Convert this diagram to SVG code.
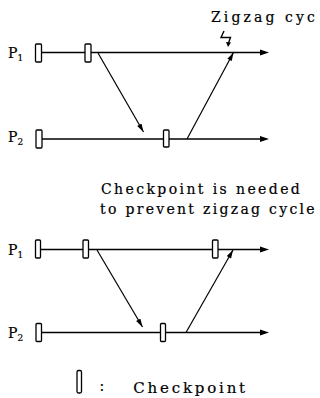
<svg xmlns="http://www.w3.org/2000/svg" width="320" height="398" viewBox="0 0 320 398">
<style>
text{font-family:'DejaVu Serif','Liberation Serif',serif;fill:#000;stroke:#000;stroke-width:0.2}
.lbl{font-size:14px}
.sub{font-size:9px}
.cap{font-size:14px;letter-spacing:2.4px}
.line{stroke:#000;stroke-width:1.3;fill:none}
.msg{stroke:#000;stroke-width:1.2;fill:none;marker-end:url(#ah)}
.ck{fill:#fff;stroke:#000;stroke-width:1.3}
</style>
<defs>
<marker id="ah" markerUnits="userSpaceOnUse" viewBox="0 0 10 6" refX="10" refY="3" markerWidth="9" markerHeight="5" orient="auto">
<path d="M0,0 L10,3 L0,6 Z" fill="#000"/>
</marker>
</defs>
<rect width="320" height="398" fill="#fff"/>

<!-- Top diagram -->
<g id="top-p1">
<text class="lbl" x="8" y="58">P<tspan class="sub" dy="3">1</tspan></text>
<line class="line" x1="38" y1="52.5" x2="262" y2="52.5"/>
<path d="M260,49.5 L269,52.5 L260,55.5 Z" fill="#000"/>
<rect class="ck" x="35.5" y="44" width="6" height="18" rx="1"/>
<rect class="ck" x="85" y="44" width="6" height="18" rx="1"/>
</g>
<g id="top-p2">
<text class="lbl" x="8" y="141.5">P<tspan class="sub" dy="3">2</tspan></text>
<line class="line" x1="38" y1="139" x2="262" y2="139"/>
<path d="M260,136 L269,139 L260,142 Z" fill="#000"/>
<rect class="ck" x="36" y="130" width="6" height="18" rx="1"/>
<rect class="ck" x="163.5" y="130" width="5.5" height="17" rx="1"/>
</g>
<g id="top-label">
<text class="cap" x="211" y="21.7" style="letter-spacing:3.1px">Zigzag cyc</text>
<path d="M224,31 L221,37.5 L230.5,37.5 L228.5,43" stroke="#000" stroke-width="1.4" fill="none"/>
<path d="M226,42 L228,47 L231,42.5 Z" fill="#000"/>
</g>

<!-- Bottom diagram -->
<g id="bottom-p1">
<text class="lbl" x="8" y="255">P<tspan class="sub" dy="3">1</tspan></text>
<line class="line" x1="38" y1="249.5" x2="262" y2="249.5"/>
<path d="M260,246.5 L269,249.5 L260,252.5 Z" fill="#000"/>
<rect class="ck" x="35.5" y="240" width="5" height="18" rx="1"/>
<rect class="ck" x="83" y="240" width="5.5" height="18" rx="1"/>
<rect class="ck" x="212.5" y="240" width="5.5" height="18" rx="1"/>
</g>
<g id="bottom-p2">
<text class="lbl" x="8" y="338">P<tspan class="sub" dy="3">2</tspan></text>
<line class="line" x1="38" y1="332.5" x2="262" y2="332.5"/>
<path d="M260,329.5 L269,332.5 L260,335.5 Z" fill="#000"/>
<rect class="ck" x="36" y="323.5" width="5.5" height="18" rx="1"/>
<rect class="ck" x="160.5" y="323.5" width="5" height="18" rx="1"/>
</g>
<g id="bottom-label">
<text class="cap" x="101" y="194.3">Checkpoint is needed</text>
<text class="cap" x="100" y="214.3" style="letter-spacing:2.3px">to prevent zigzag cycle</text>
</g>

<g id="connectors">
<line class="msg" x1="98" y1="53" x2="143.5" y2="132"/>
<line class="msg" x1="187" y1="139" x2="233.5" y2="52.5"/>
<line class="msg" x1="97" y1="250" x2="142.5" y2="327"/>
<line class="msg" x1="186" y1="332.5" x2="233" y2="250"/>
</g>

<!-- Legend -->
<g id="legend">
<rect class="ck" x="77" y="370.5" width="4.5" height="22.5" rx="1.5"/>
<text x="99.5" y="391" style="font-size:14px">:</text>
<text x="133.3" y="393.3" style="font-size:15px;letter-spacing:2.8px">Checkpoint</text>
</g>
</svg>
